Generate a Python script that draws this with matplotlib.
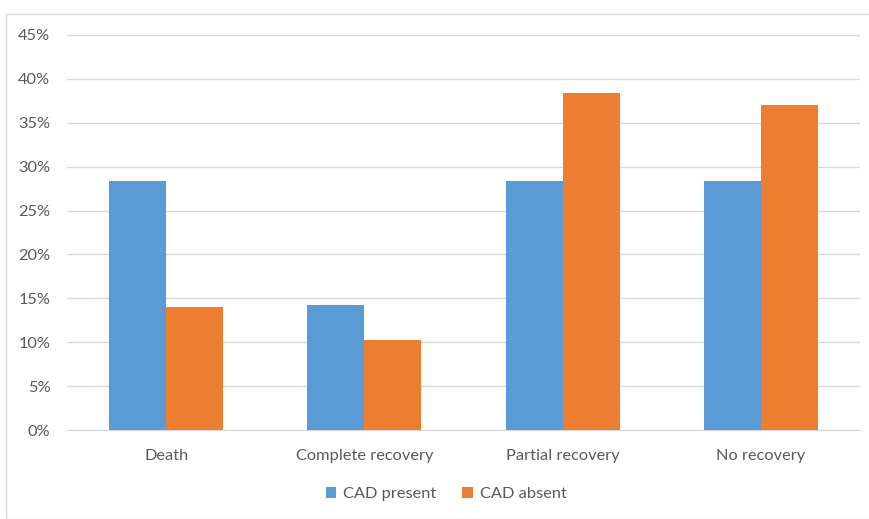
import numpy as np
import matplotlib.pyplot as plt
from matplotlib.patches import Rectangle

categories = ['Death', 'Complete recovery', 'Partial recovery', 'No recovery']
cad_present = [28.4, 14.25, 28.4, 28.4]
cad_absent = [14.0, 10.25, 38.4, 37.0]
yticks = [0, 5, 10, 15, 20, 25, 30, 35, 40, 45]

blue = '#5B9BD5'
orange = '#ED7D31'
text_color = '#595959'
grid_color = '#D9D9D9'

plt.rcParams['font.family'] = ['Lato', 'DejaVu Sans']

fig = plt.figure(figsize=(8.69, 5.19), dpi=100)
# chart frame
fig.patches.append(Rectangle((6 / 869, 0), 1.2, 1 - 14 / 519, transform=fig.transFigure,
                             fill=False, edgecolor='#D9D9D9', linewidth=1))

ax = fig.add_axes([67 / 869, 1 - 430 / 519, (860 - 67) / 869, (430 - 35) / 519])

x = np.arange(len(categories))
width = 0.288
ax.bar(x - width / 2, cad_present, width, color=blue, label='CAD present', zorder=3)
ax.bar(x + width / 2, cad_absent, width, color=orange, label='CAD absent', zorder=3)

ax.set_xlim(-0.5, len(categories) - 0.5)
ax.set_ylim(0, 45)
ax.set_yticks(yticks)
ax.set_yticklabels([f'{t}%' for t in yticks])
ax.set_xticks(x)
ax.set_xticklabels(categories)
ax.yaxis.grid(True, color=grid_color, linewidth=1, zorder=0)
ax.tick_params(axis='both', length=0, labelsize=11.8, colors=text_color)
ax.tick_params(axis='y', pad=12)
ax.tick_params(axis='x', pad=14)
for side in ['top', 'right', 'left']:
    ax.spines[side].set_visible(False)
ax.spines['bottom'].set_color(grid_color)

leg = fig.legend(loc='center', bbox_to_anchor=(446 / 869, 1 - 494 / 519), ncol=2,
                 frameon=False, fontsize=11.8, handlelength=0.65, handleheight=0.65,
                 handletextpad=0.4, columnspacing=1.6)
for t in leg.get_texts():
    t.set_color(text_color)

fig.savefig('out.png', dpi=100)
